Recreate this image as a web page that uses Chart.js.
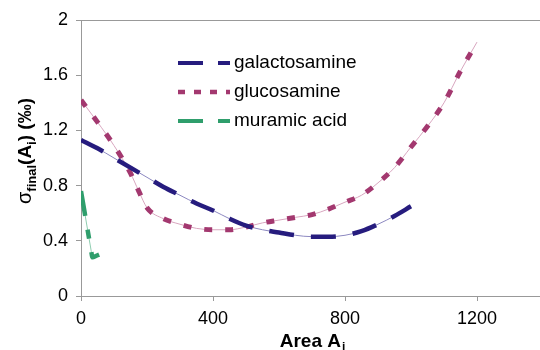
<!DOCTYPE html>
<html>
<head>
<meta charset="utf-8">
<script src="https://cdn.jsdelivr.net/npm/chart.js@4/dist/chart.umd.min.js"></script>
<style>
html,body{margin:0;padding:0;background:#fff;overflow:hidden;}
#wrap{position:relative;width:546px;height:350px;}
</style>
</head>
<body>
<div id="wrap"><canvas id="c" width="546" height="350"></canvas></div>
<script>
// ---- data ----
const seriesNames = ['galactosamine', 'glucosamine', 'muramic acid'];

const areaGal = [0, 50, 100, 150, 200, 250, 300, 350, 400, 450, 500, 550, 600, 650, 700, 750, 800, 850, 900, 950, 1000];
const galactosamine = [1.13, 1.07, 1.00, 0.93, 0.86, 0.79, 0.73, 0.67, 0.62, 0.56, 0.51, 0.48, 0.46, 0.44, 0.43, 0.43, 0.44, 0.47, 0.52, 0.58, 0.65];

const areaGlu = [0, 50, 100, 150, 175, 200, 250, 300, 350, 400, 450, 500, 550, 600, 650, 700, 750, 800, 850, 900, 950, 1000, 1050, 1100, 1150, 1200];
const glucosamine = [1.42, 1.26, 1.09, 0.89, 0.76, 0.64, 0.56, 0.52, 0.49, 0.48, 0.48, 0.50, 0.53, 0.55, 0.57, 0.59, 0.63, 0.68, 0.73, 0.82, 0.93, 1.08, 1.23, 1.40, 1.63, 1.84];

const areaMur = [0, 10, 20, 30, 35, 45, 55];
const muramicAcid = [0.76, 0.62, 0.48, 0.34, 0.28, 0.29, 0.30];

const xTicks = [0, 400, 800, 1200];
const xTickLabels = ['0', '400', '800', '1200'];
const yTicks = [0, 0.4, 0.8, 1.2, 1.6, 2];
const yTickLabels = ['0', '0.4', '0.8', '1.2', '1.6', '2'];

const colors = {
  galactosamine: {dark: '#261c7e', light: '#8c88c0', dash: [25, 17], legendDash: [25, 15]},
  glucosamine: {dark: '#a3386f', light: '#d8a6bf', dash: [8, 13], legendDash: [7, 9]},
  muramic: {dark: '#2f9e6c', light: '#8fcdb0', dash: [25, 14, 9, 14], legendDash: [25, 15]}
};

function pts(xs, ys) { return xs.map((x, i) => ({x: x, y: ys[i]})); }

function pair(name, xs, ys, c, w) {
  const d = pts(xs, ys);
  return [
    {label: name + ' (curve)', data: d, showLine: true, borderColor: c.light, borderWidth: 1,
     pointRadius: 0, cubicInterpolationMode: 'monotone', fill: false, order: 2},
    {label: name, data: d, showLine: true, borderColor: c.dark, borderWidth: w, borderDash: c.dash,
     borderCapStyle: 'butt', pointRadius: 0, cubicInterpolationMode: 'monotone', fill: false, order: 1}
  ];
}

const datasets = [].concat(
  pair(seriesNames[0], areaGal, galactosamine, colors.galactosamine, 4.5),
  pair(seriesNames[1], areaGlu, glucosamine, colors.glucosamine, 5),
  pair(seriesNames[2], areaMur, muramicAcid, colors.muramic, 4.5)
);

const FONT = '"Liberation Sans", Arial, sans-serif';

const decor = {
  id: 'decor',
  afterDraw(chart) {
    const ctx = chart.ctx;
    const ca = chart.chartArea;
    ctx.save();
    // top border line
    ctx.strokeStyle = '#999';
    ctx.lineWidth = 1;
    ctx.beginPath();
    ctx.moveTo(ca.left, ca.top + 0.5);
    ctx.lineTo(ca.right, ca.top + 0.5);
    ctx.stroke();

    // legend
    const legendItems = [
      {name: seriesNames[0], c: colors.galactosamine, w: 4, y: 63},
      {name: seriesNames[1], c: colors.glucosamine, w: 4.5, y: 92},
      {name: seriesNames[2], c: colors.muramic, w: 4, y: 121}
    ];
    legendItems.forEach(it => {
      ctx.strokeStyle = it.c.dark;
      ctx.lineWidth = it.w;
      ctx.lineCap = 'butt';
      ctx.setLineDash(it.c.legendDash);
      ctx.beginPath();
      ctx.moveTo(178, it.y);
      ctx.lineTo(230, it.y);
      ctx.stroke();
      ctx.setLineDash([]);
      ctx.fillStyle = '#000';
      ctx.font = '19px ' + FONT;
      ctx.textBaseline = 'middle';
      ctx.textAlign = 'left';
      ctx.fillText(it.name, 234, it.y);
    });

    // x-axis title: Area A_i
    ctx.fillStyle = '#000';
    ctx.textBaseline = 'alphabetic';
    const t1 = 'Area A';
    ctx.font = 'bold 19px ' + FONT;
    const w1 = ctx.measureText(t1).width;
    ctx.font = 'bold 12px ' + FONT;
    const w2 = ctx.measureText('i').width;
    const cx = (ca.left + ca.right) / 2;
    let x0 = cx - (w1 + w2) / 2;
    ctx.textAlign = 'left';
    ctx.font = 'bold 19px ' + FONT;
    ctx.fillText(t1, x0, 347);
    ctx.font = 'bold 12px ' + FONT;
    ctx.fillText('i', x0 + w1 + 1, 351);

    // y-axis title: σ_final(A_i) (‰)
    const parts = [
      {t: 'σ', f: '20px ' + FONT, dy: 0},
      {t: 'final', f: 'bold 13px ' + FONT, dy: 5},
      {t: '(A', f: 'bold 19px ' + FONT, dy: 0},
      {t: 'i', f: 'bold 13px ' + FONT, dy: 5},
      {t: ') (‰)', f: 'bold 19px ' + FONT, dy: 0}
    ];
    let total = 0;
    parts.forEach(p => { ctx.font = p.f; p.w = ctx.measureText(p.t).width; total += p.w; });
    ctx.translate(31, 151);
    ctx.rotate(-Math.PI / 2);
    let px = -total / 2;
    parts.forEach(p => {
      ctx.font = p.f;
      ctx.fillText(p.t, px, p.dy);
      px += p.w;
    });
    ctx.restore();
  }
};

new Chart(document.getElementById('c'), {
  type: 'scatter',
  data: {datasets: datasets},
  plugins: [decor],
  options: {
    responsive: false,
    animation: false,
    devicePixelRatio: 1,
    layout: {padding: {top: 20, right: 3, left: 0, bottom: 0}},
    plugins: {legend: {display: false}, tooltip: {enabled: false}},
    scales: {
      x: {
        type: 'linear', min: 0, max: 1400,
        afterBuildTicks: s => { s.ticks = xTicks.map(v => ({value: v})); },
        afterFit: s => { s.height = 54; },
        grid: {drawOnChartArea: false, drawTicks: true, tickLength: 5, color: '#999'},
        border: {color: '#999', width: 1},
        ticks: {
          color: '#000', font: {family: FONT, size: 18}, padding: 7, maxRotation: 0,
          callback: (v) => { const i = xTicks.indexOf(v); return i >= 0 ? xTickLabels[i] : ''; }
        }
      },
      y: {
        type: 'linear', min: 0, max: 2,
        afterBuildTicks: s => { s.ticks = yTicks.map(v => ({value: v})); },
        afterFit: s => { s.width = 81; },
        grid: {drawOnChartArea: false, drawTicks: true, tickLength: 5, color: '#999'},
        border: {color: '#999', width: 1},
        ticks: {
          color: '#000', font: {family: FONT, size: 18}, padding: 8,
          callback: (v) => { const i = yTicks.findIndex(t => Math.abs(t - v) < 1e-9); return i >= 0 ? yTickLabels[i] : ''; }
        }
      }
    }
  }
});
</script>
</body>
</html>
